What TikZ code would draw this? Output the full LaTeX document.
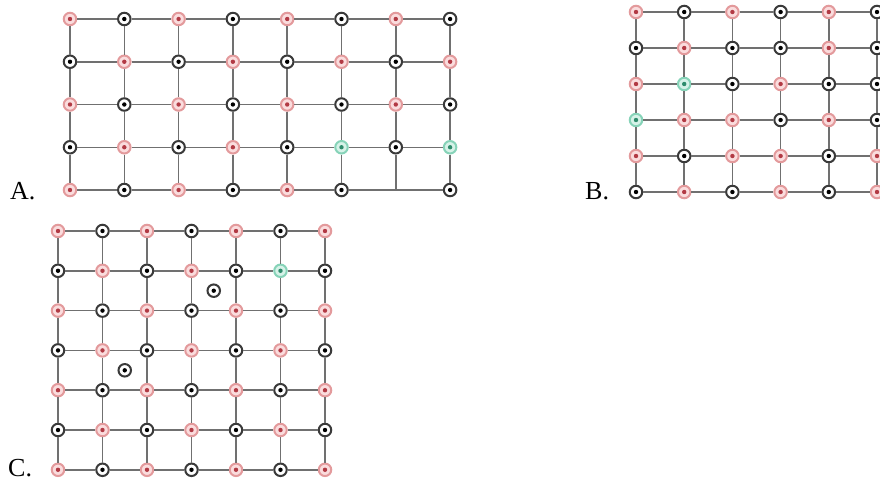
\documentclass[tikz,border=0pt]{standalone}
\usepackage{fontspec}
\setmainfont{Liberation Serif}

\definecolor{ringred}{HTML}{E39A9C}
\definecolor{fillred}{HTML}{FADCDD}
\definecolor{dotred}{HTML}{B23A44}
\definecolor{ringgrey}{HTML}{3A3A3A}
\definecolor{ringgreen}{HTML}{86D3B8}
\definecolor{fillgreen}{HTML}{D6F2E8}
\definecolor{dotgreen}{HTML}{2E8C6C}
\definecolor{linegrey}{HTML}{707070}

\begin{document}
\begin{tikzpicture}[x=1pt, y=-1pt,
    site/.style={circle, inner sep=0pt, minimum size=12.5pt, line width=2pt},
    ptr/.style={site, draw=ringred, fill=fillred,
        path picture={\fill[dotred] (path picture bounding box.center) circle (2.2pt);}},
    ptb/.style={site, draw=ringgrey, fill=white,
        path picture={\fill[black] (path picture bounding box.center) circle (2.2pt);}},
    ptg/.style={site, draw=ringgreen, fill=fillgreen,
        path picture={\fill[dotgreen] (path picture bounding box.center) circle (2.2pt);}},
    ptn/.style={coordinate},
    bond/.style={draw=linegrey, line width=1.5pt},
    lbl/.style={anchor=base west, inner sep=0pt, font=\fontsize{26}{30}\selectfont}]

    % Page frame
    \useasboundingbox (0,0) rectangle (880,482);

    % 1. Lattice A (8 x 5, one site left empty)
    \foreach \row [count=\j from 0] in {{r,b,r,b,r,b,r,b},{b,r,b,r,b,r,b,r},
        {r,b,r,b,r,b,r,b},{b,r,b,r,b,g,b,g},{r,b,r,b,r,b,n,b}}{
        \foreach \c [count=\i from 0] in \row{
            \node[pt\c] (A-\i-\j) at (70+54.3*\i, 19+42.75*\j) {};
        }
    }
    \foreach \j in {0,...,4}{
        \foreach \i in {0,...,6}{
            \pgfmathtruncatemacro{\k}{\i+1}
            \draw[bond] (A-\i-\j) -- (A-\k-\j);
        }
    }
    \foreach \i in {0,...,7}{
        \foreach \j in {0,...,3}{
            \pgfmathtruncatemacro{\k}{\j+1}
            \draw[bond] (A-\i-\j) -- (A-\i-\k);
        }
    }
    \node[lbl] (labA) at (10,199) {A.};

    % 2. Lattice B (6 x 6, last column cut by the edge)
    \foreach \row [count=\j from 0] in {{r,b,r,b,r,b},{b,r,b,b,r,b},
        {r,g,b,r,b,b},{g,r,r,b,r,b},{r,b,r,r,b,r},{b,r,b,r,b,r}}{
        \foreach \c [count=\i from 0] in \row{
            \node[pt\c] (B-\i-\j) at (636+48.2*\i, 12+36*\j) {};
        }
    }
    \foreach \j in {0,...,5}{
        \foreach \i in {0,...,4}{
            \pgfmathtruncatemacro{\k}{\i+1}
            \draw[bond] (B-\i-\j) -- (B-\k-\j);
        }
    }
    \foreach \i in {0,...,5}{
        \foreach \j in {0,...,4}{
            \pgfmathtruncatemacro{\k}{\j+1}
            \draw[bond] (B-\i-\j) -- (B-\i-\k);
        }
    }
    \node[lbl] (labB) at (585,199) {B.};

    % 3. Lattice C (7 x 7) with two extra sites inside cells
    \foreach \row [count=\j from 0] in {{r,b,r,b,r,b,r},{b,r,b,r,b,g,b},
        {r,b,r,b,r,b,r},{b,r,b,r,b,r,b},{r,b,r,b,r,b,r},{b,r,b,r,b,r,b},
        {r,b,r,b,r,b,r}}{
        \foreach \c [count=\i from 0] in \row{
            \node[pt\c] (C-\i-\j) at (58+44.5*\i, 231+39.8*\j) {};
        }
    }
    \foreach \j in {0,...,6}{
        \foreach \i in {0,...,5}{
            \pgfmathtruncatemacro{\k}{\i+1}
            \draw[bond] (C-\i-\j) -- (C-\k-\j);
        }
    }
    \foreach \i in {0,...,6}{
        \foreach \j in {0,...,5}{
            \pgfmathtruncatemacro{\k}{\j+1}
            \draw[bond] (C-\i-\j) -- (C-\i-\k);
        }
    }
    \node[ptb] (C-x1) at (213.75,290.7) {};
    \node[ptb] (C-x2) at (124.75,370.3) {};
    \node[lbl] (labC) at (8,476) {C.};

\end{tikzpicture}
\end{document}
